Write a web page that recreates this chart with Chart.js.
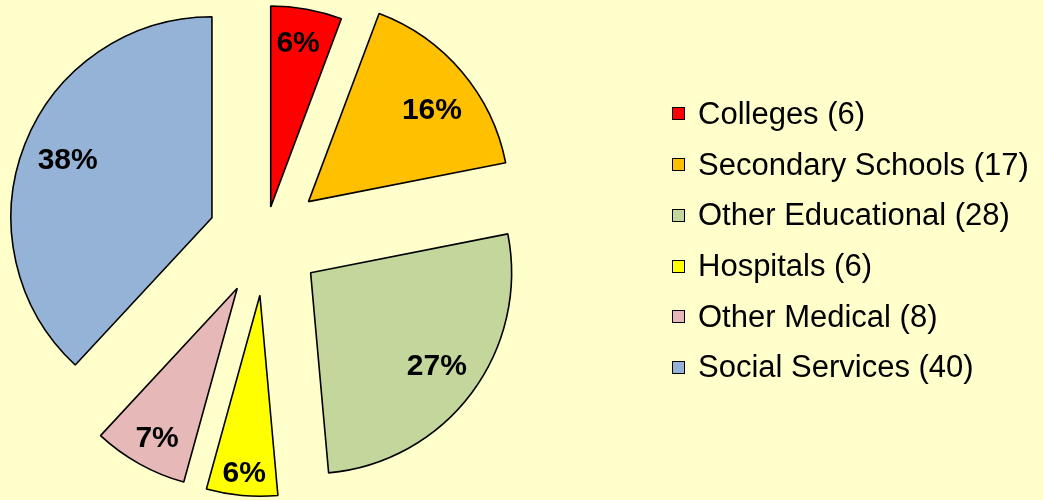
<!DOCTYPE html>
<html>
<head>
<meta charset="utf-8">
<script src="https://cdn.jsdelivr.net/npm/chart.js@4/dist/chart.umd.min.js"></script>
<style>
  html, body { margin: 0; padding: 0; background: #FFFFCC; }
  #wrap { position: relative; width: 1043px; height: 500px; background: #FFFFCC; overflow: hidden; }
  #c { position: absolute; left: 0; top: 0; }
  #legend { position: absolute; left: 672px; top: 88.6px; font-family: "Liberation Sans", Arial, sans-serif; font-size: 31px; color: #000; }
  .row { display: flex; align-items: center; height: 50.7px; white-space: nowrap; }
  .sw { width: 11px; height: 11px; border: 1px solid #000; margin-right: 13px; flex: none; }
</style>
</head>
<body>
<div id="wrap">
  <canvas id="c" width="1043" height="500"></canvas>
  <div id="legend"></div>
</div>
<script>
const categories = ['Colleges', 'Secondary Schools', 'Other Educational', 'Hospitals', 'Other Medical', 'Social Services'];
const counts = [6, 17, 28, 6, 8, 40];
const percentLabels = ['6%', '16%', '27%', '6%', '7%', '38%'];
const sliceColors = ['#FF0000', '#FFC000', '#C3D69B', '#FFFF00', '#E6B9B8', '#95B3D7'];
const explodeDistance = [32, 57, 57, 57, 57, 57];
const labelRadiusFraction = [0.827, 0.765, 0.78, 0.885, 0.843, 0.773];
const labelAngleShiftDeg = [-0.8, 3.7, -0.5, -0.1, -0.9, 0.4];

// Explode slices: move each arc element's centre outward along its bisector
const explodePlugin = {
  id: 'explode',
  afterDatasetUpdate(chart, args) {
    args.meta.data.forEach((arc, i) => {
      const mid = (arc.startAngle + arc.endAngle) / 2;
      const d = explodeDistance[i] || 0;
      arc.x = arc.x + Math.cos(mid) * d;
      arc.y = arc.y + Math.sin(mid) * d;
    });
  }
};

// Percentage labels inside slices
const pctLabelPlugin = {
  id: 'pctLabels',
  afterDatasetsDraw(chart) {
    const ctx = chart.ctx;
    const meta = chart.getDatasetMeta(0);
    ctx.save();
    ctx.font = 'bold 30px "Liberation Sans", Arial, sans-serif';
    ctx.fillStyle = '#000';
    ctx.textAlign = 'center';
    ctx.textBaseline = 'middle';
    meta.data.forEach((arc, i) => {
      const mid = (arc.startAngle + arc.endAngle) / 2 + labelAngleShiftDeg[i] * Math.PI / 180;
      const r = arc.outerRadius * labelRadiusFraction[i];
      ctx.fillText(percentLabels[i], arc.x + Math.cos(mid) * r, arc.y + Math.sin(mid) * r + 1);
    });
    ctx.restore();
  }
};

new Chart(document.getElementById('c'), {
  type: 'pie',
  data: {
    labels: categories,
    datasets: [{
      data: counts,
      backgroundColor: sliceColors,
      borderColor: '#000000',
      borderWidth: 1.6,
      radius: 201
    }]
  },
  options: {
    responsive: false,
    animation: false,
    events: [],
    layout: { padding: { left: 0, right: 513, top: 0, bottom: 23 } },
    plugins: {
      legend: { display: false },
      tooltip: { enabled: false }
    }
  },
  plugins: [explodePlugin, pctLabelPlugin]
});

// HTML legend built from the same arrays
const legendEl = document.getElementById('legend');
categories.forEach((name, i) => {
  const row = document.createElement('div');
  row.className = 'row';
  const sw = document.createElement('span');
  sw.className = 'sw';
  sw.style.background = sliceColors[i];
  const txt = document.createElement('span');
  txt.textContent = name + ' (' + counts[i] + ')';
  row.appendChild(sw);
  row.appendChild(txt);
  legendEl.appendChild(row);
});
</script>
</body>
</html>
